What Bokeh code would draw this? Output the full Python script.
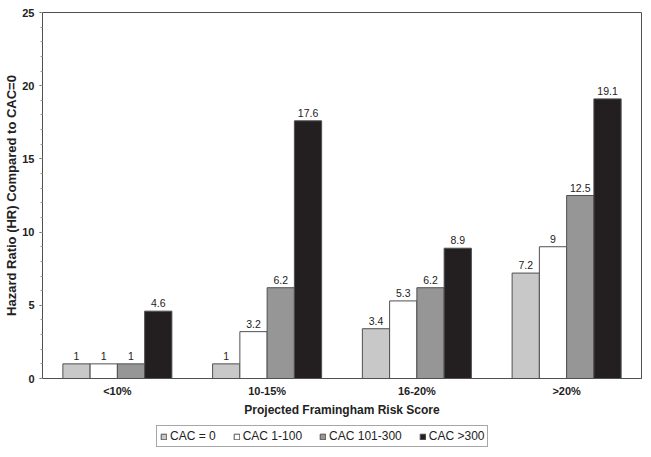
from bokeh.plotting import figure
from bokeh.models import ColumnDataSource, Legend, LegendItem, SingleIntervalTicker, FactorRange, Range1d, Title
from bokeh.layouts import column
from bokeh.transform import dodge
from bokeh.embed import file_html
from bokeh.resources import INLINE
from bokeh.core.properties import value

categories = ["<10%", "10-15%", "16-20%", ">20%"]
series_names = ["CAC = 0", "CAC 1-100", "CAC 101-300", "CAC >300"]
cac_0 = [1, 1, 3.4, 7.2]
cac_1_100 = [1, 3.2, 5.3, 9]
cac_101_300 = [1, 6.2, 6.2, 12.5]
cac_gt_300 = [4.6, 17.6, 8.9, 19.1]
series_values = [cac_0, cac_1_100, cac_101_300, cac_gt_300]
colors = ["#c8c8c8", "#ffffff", "#969696", "#231f20"]
y_ticks_interval = 5
y_title = "Hazard Ratio (HR) Compared to CAC=0"
x_title = "Projected Framingham Risk Score"

FONT = "Liberation Sans"
LINE = "#505050"

p = figure(width=643, height=419, x_range=FactorRange(*categories), y_range=Range1d(0, 25),
           output_backend="svg", toolbar_location=None, min_border=0,
           min_border_top=12, min_border_right=2, min_border_left=42, min_border_bottom=40)
p.xgrid.visible = False
p.ygrid.visible = False
p.outline_line_color = LINE
p.outline_line_width = 1

bw = 0.182
offsets = [-1.5 * bw, -0.5 * bw, 0.5 * bw, 1.5 * bw]
data = {"cat": categories}
for i, vals in enumerate(series_values):
    data[f"s{i}"] = vals
    data[f"l{i}"] = [f"{v:g}" for v in vals]
src = ColumnDataSource(data)

for i in range(4):
    p.vbar(x=dodge("cat", offsets[i], range=p.x_range), top=f"s{i}", width=bw, source=src,
           fill_color=colors[i], line_color=LINE, line_width=1)
    p.text(x=dodge("cat", offsets[i], range=p.x_range), y=f"s{i}", text=f"l{i}", source=src,
           text_align="center", text_baseline="bottom", y_offset=-4,
           text_font=value(FONT), text_font_size="10.5px", text_color="#222222")

# axes
p.yaxis.ticker = SingleIntervalTicker(interval=y_ticks_interval, num_minor_ticks=5)
p.yaxis.major_label_text_font = FONT
p.yaxis.major_label_text_font_size = "11px"
p.yaxis.major_label_text_font_style = "bold"
p.yaxis.major_label_text_color = "#222222"
p.yaxis.major_label_standoff = 5
p.yaxis.major_tick_out = 3
p.yaxis.major_tick_in = 0
p.yaxis.minor_tick_out = 2
p.yaxis.minor_tick_in = 0
p.yaxis.axis_line_color = LINE
p.yaxis.major_tick_line_color = LINE
p.yaxis.minor_tick_line_color = "#999999"

ytitle = Title(text=y_title, align="center", offset=20, standoff=2,
               text_font=FONT, text_font_size="13px", text_font_style="bold",
               text_color="#222222")
p.add_layout(ytitle, "left")

p.xaxis.axis_label = x_title
p.xaxis.axis_label_text_font = FONT
p.xaxis.axis_label_text_font_size = "12px"
p.xaxis.axis_label_text_font_style = "bold"
p.xaxis.axis_label_text_color = "#222222"
p.xaxis.axis_label_standoff = 3
p.xaxis.major_label_text_font = FONT
p.xaxis.major_label_text_font_size = "11px"
p.xaxis.major_label_text_font_style = "bold"
p.xaxis.major_label_text_color = "#222222"
p.xaxis.major_label_standoff = 6
p.xaxis.major_tick_line_color = None
p.xaxis.major_tick_out = 0
p.xaxis.axis_line_color = LINE

# legend strip below the chart
lf = figure(width=643, height=30, x_range=Range1d(0, 1), y_range=Range1d(0, 1),
            output_backend="svg", toolbar_location=None, min_border=0)
lf.axis.visible = False
lf.xgrid.visible = False
lf.ygrid.visible = False
lf.outline_line_color = None
swatch = ColumnDataSource(dict(x=[0.5], bottom=[-40], top=[-39]))
leg_r = [lf.vbar(x="x", bottom="bottom", top="top", width=0.01, source=swatch,
                 fill_color=colors[i], line_color=LINE, line_width=1) for i in range(4)]
legend = Legend(items=[LegendItem(label=series_names[i], renderers=[leg_r[i]]) for i in range(4)],
                orientation="horizontal", location=(114, 2), margin=0, padding=3,
                spacing=17, label_standoff=3, glyph_width=7, glyph_height=7,
                label_height=12, label_width=10,
                label_text_font=FONT, label_text_font_size="12px", label_text_color="#222222",
                border_line_color=LINE, border_line_width=1)
lf.add_layout(legend)

layout = column(p, lf, spacing=0)
open("out.html", "w").write(file_html(layout, INLINE))
